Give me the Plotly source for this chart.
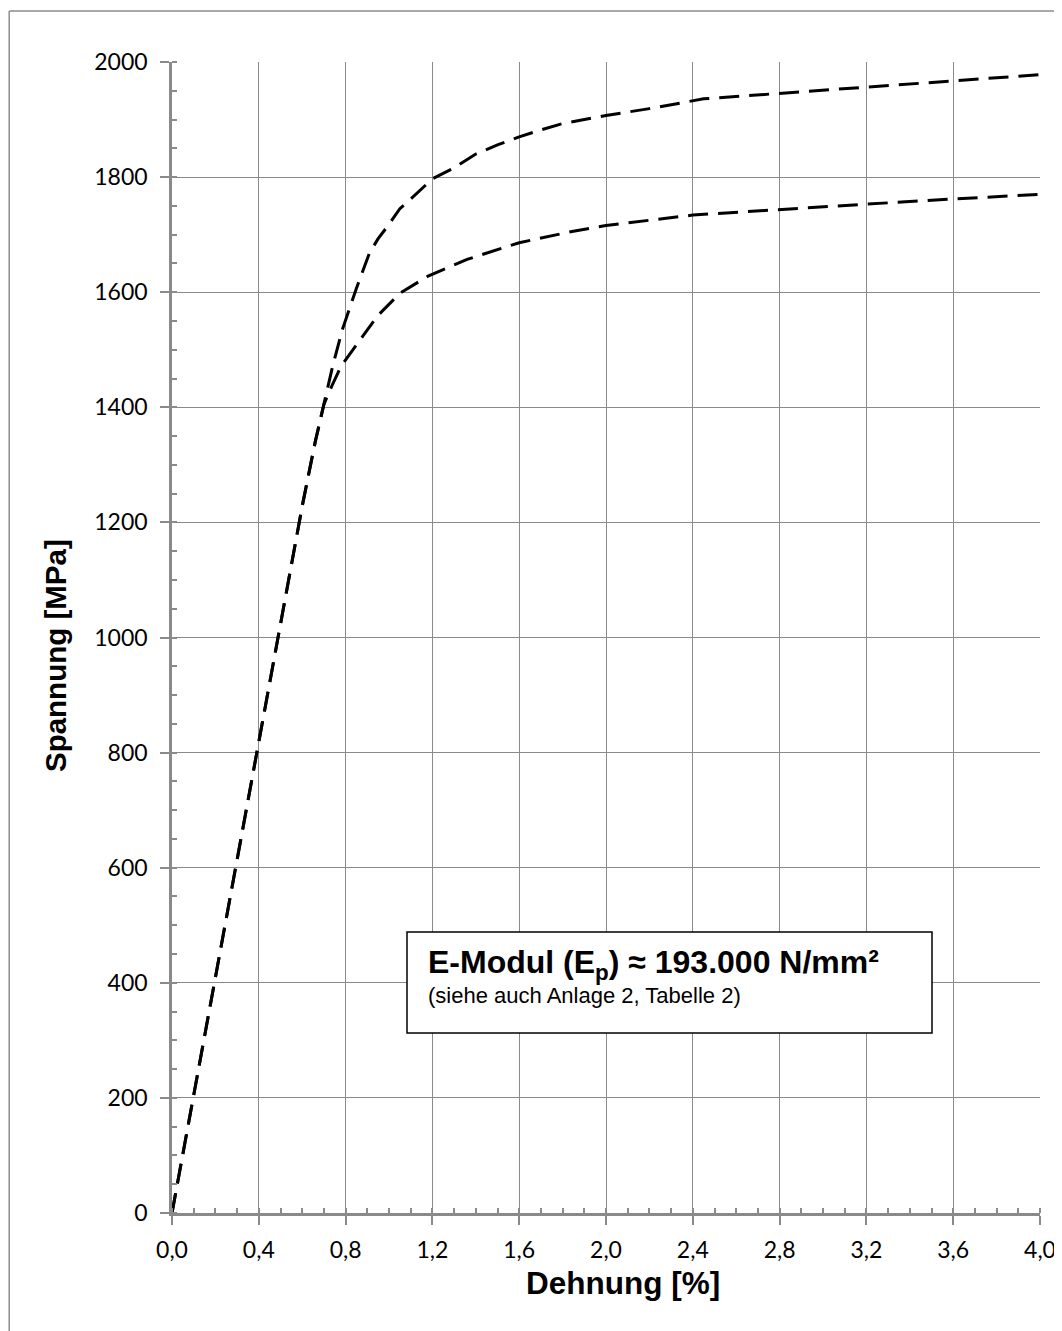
import plotly.graph_objects as go

# ---- data ----
strain_upper = [0.0, 0.1, 0.2, 0.3, 0.4, 0.5, 0.6, 0.66, 0.70, 0.74, 0.785, 0.85, 0.91, 0.95,
                1.0, 1.05, 1.1, 1.2, 1.3, 1.4, 1.5, 1.6, 1.7, 1.8, 1.9, 2.0, 2.2, 2.45, 4.0]
stress_upper = [0, 205, 410, 612, 818, 1022, 1228, 1340, 1405, 1471, 1535, 1607, 1668, 1693,
                1718, 1745, 1762, 1797, 1816, 1840, 1856, 1870, 1882, 1893, 1900, 1907, 1919, 1936, 1978]

strain_lower = [0.0, 0.1, 0.2, 0.3, 0.4, 0.5, 0.6, 0.66, 0.70, 0.74, 0.78, 0.88, 0.95, 1.05,
                1.18, 1.36, 1.6, 1.85, 2.0, 2.4, 2.8, 3.2, 3.6, 4.0]
stress_lower = [0, 205, 410, 612, 818, 1022, 1228, 1340, 1405, 1440, 1472, 1524, 1560, 1598,
                1628, 1657, 1686, 1706, 1716, 1734, 1744, 1753, 1762, 1770]

x_ticks = [0.0, 0.4, 0.8, 1.2, 1.6, 2.0, 2.4, 2.8, 3.2, 3.6, 4.0]
x_tick_labels = ["0,0", "0,4", "0,8", "1,2", "1,6", "2,0", "2,4", "2,8", "3,2", "3,6", "4,0"]
y_ticks = [0, 200, 400, 600, 800, 1000, 1200, 1400, 1600, 1800, 2000]
y_tick_labels = ["0", "200", "400", "600", "800", "1000", "1200", "1400", "1600", "1800", "2000"]

x_title = "Dehnung [%]"
y_title = "Spannung [MPa]"
box_line1 = "E-Modul (E<sub>p</sub>) ≈ 193.000 N/mm²"
box_line2 = "(siehe auch Anlage 2, Tabelle 2)"

GRID = "#8a8a8a"
TICKFONT = dict(family="Lato, Carlito, sans-serif", size=23, color="black")
BOLD = "Liberation Sans, Arial, sans-serif"

fig = go.Figure()
for xs, ys in [(strain_upper, stress_upper), (strain_lower, stress_lower)]:
    fig.add_trace(go.Scatter(x=xs, y=ys, mode="lines",
                             line=dict(color="black", width=3, dash="20px,10px"),
                             hoverinfo="skip", showlegend=False))

axis_common = dict(
    showline=True, linecolor=GRID, linewidth=2.5,
    showgrid=True, gridcolor=GRID, gridwidth=1.4,
    zeroline=False, ticks="outside", ticklen=9, tickwidth=2, tickcolor=GRID,
    tickfont=TICKFONT, tickmode="array",
)

fig.update_xaxes(range=[0, 4], tickvals=x_ticks, ticktext=x_tick_labels,
                 minor=dict(ticks="inside", ticklen=5, tickwidth=1.5, tickcolor=GRID,
                            dtick=0.1, tick0=0, showgrid=False),
                 ticklabelstandoff=6, **axis_common)
fig.update_yaxes(range=[0, 2000], tickvals=y_ticks, ticktext=y_tick_labels,
                 minor=dict(ticks="inside", ticklen=5, tickwidth=1.5, tickcolor=GRID,
                            dtick=50, tick0=0, showgrid=False),
                 ticklabelstandoff=8, **axis_common)

# page body offsets the figure by 8 px; work in screenshot pixels
OFF = 8
W, H = 1062 - OFF, 1331 - OFF
PL, PR, PT, PB = 172, 1040, 62, 1213          # plot area in screenshot pixels
L, R, T, B = PL - OFF, W - (PR - OFF), PT - OFF, H - (PB - OFF)
pw, ph = PR - PL, PB - PT

def px(xpix):
    return (xpix - PL) / pw

def py(ypix):
    return (PB - ypix) / ph

shapes = [
    # outer chart border (left and top visible)
    dict(type="line", xref="paper", yref="paper", x0=px(9.2), x1=px(9.2), y0=py(11), y1=py(1400),
         line=dict(color="#8c8c8c", width=1.5)),
    dict(type="line", xref="paper", yref="paper", x0=px(9.2), x1=px(1100), y0=py(11), y1=py(11),
         line=dict(color="#8c8c8c", width=1.5)),
    # text box
    dict(type="rect", xref="paper", yref="paper", x0=px(407), x1=px(932), y0=py(1033), y1=py(932),
         line=dict(color="black", width=1.5), fillcolor="white", layer="above"),
]

annotations = [
    dict(text=box_line1, xref="paper", yref="paper", x=px(426), y=py(964),
         xanchor="left", yanchor="middle", showarrow=False,
         font=dict(family=BOLD, size=32, color="black", weight="bold")),
    dict(text=box_line2, xref="paper", yref="paper", x=px(426), y=py(995),
         xanchor="left", yanchor="middle", showarrow=False,
         font=dict(family=BOLD, size=22, color="black")),
    dict(text="<b>" + x_title + "</b>", xref="paper", yref="paper", x=px(623), y=py(1283),
         xanchor="center", yanchor="middle", showarrow=False,
         font=dict(family=BOLD, size=31.5, color="black")),
    dict(text="<b>" + y_title + "</b>", xref="paper", yref="paper", x=px(55), y=py(656),
         xanchor="center", yanchor="middle", showarrow=False, textangle=-90,
         font=dict(family=BOLD, size=29.5, color="black")),
]

fig.update_layout(
    width=W, height=H, margin=dict(l=L, r=R, t=T, b=B, autoexpand=False),
    paper_bgcolor="white", plot_bgcolor="white",
    shapes=shapes, annotations=annotations, showlegend=False,
)

fig.write_html("out.html")
